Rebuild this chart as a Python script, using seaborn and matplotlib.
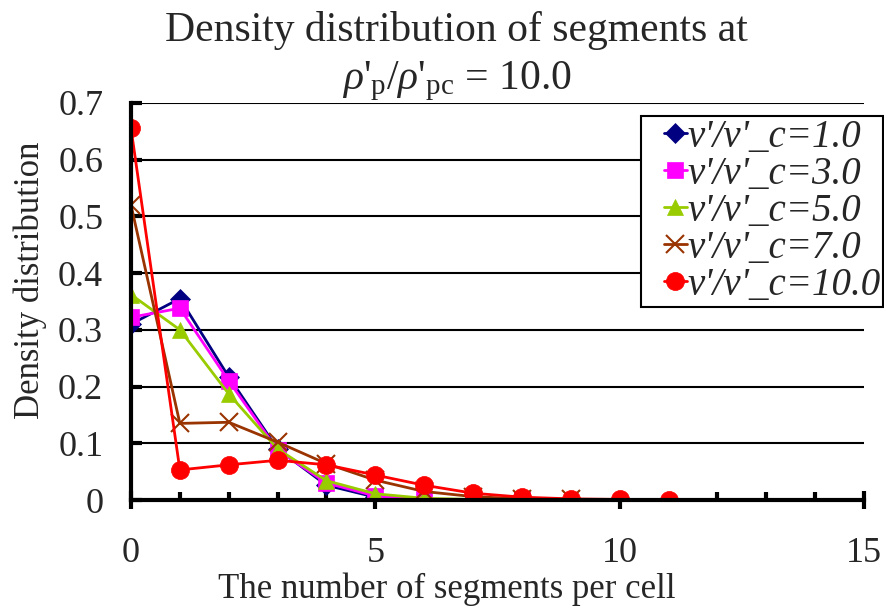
import numpy as np
import pandas as pd
import matplotlib
matplotlib.use("Agg")
import matplotlib.pyplot as plt
import seaborn as sns
from matplotlib.ticker import MultipleLocator
from matplotlib.legend_handler import HandlerLine2D

x_vals = [0, 1, 2, 3, 4, 5, 6, 7, 8, 9, 10, 11]
labels = ["v'/v'_c=1.0", "v'/v'_c=3.0", "v'/v'_c=5.0", "v'/v'_c=7.0", "v'/v'_c=10.0"]
s1 = [0.310, 0.355, 0.217, 0.090, 0.026, 0.005, 0.001, 0.0, 0.0]
s2 = [0.322, 0.338, 0.210, 0.088, 0.030, 0.007, 0.002, 0.0, 0.0]
s3 = [0.362, 0.300, 0.187, 0.090, 0.034, 0.011, 0.003, 0.001, 0.0]
s4 = [0.520, 0.135, 0.137, 0.102, 0.064, 0.035, 0.015, 0.006, 0.002, 0.001]
s5 = [0.655, 0.053, 0.062, 0.070, 0.062, 0.044, 0.026, 0.012, 0.005, 0.002, 0.001, 0.0]
series = [s1, s2, s3, s4, s5]
colors = ["#000080", "#FF00FF", "#99CC00", "#993300", "#FF0000"]
markers = ["D", "s", "^", "x", "o"]
msizes = [10, 12, 12, 13, 13]

sns.set_theme(style="white")
plt.rcParams['font.family'] = ['Liberation Serif', 'DejaVu Serif']
plt.rcParams['mathtext.fontset'] = 'custom'
plt.rcParams['mathtext.rm'] = 'Liberation Serif'
plt.rcParams['mathtext.it'] = 'Liberation Serif:italic'

fig = plt.figure(figsize=(8.84, 6.12), dpi=100)
ax = fig.add_axes([131 / 884, 0.183, (864 - 131) / 884, 0.649])

for ys, lab, c, m, ms in zip(series, labels, colors, markers, msizes):
    df = pd.DataFrame({"x": x_vals[:len(ys)], "y": ys})
    sns.lineplot(data=df, x="x", y="y", ax=ax, color=c, marker=m, markersize=ms,
                 markeredgecolor=c, markeredgewidth=1.5 if m == "x" else 0.5,
                 linewidth=2, label=lab)

ax.set_xlim(0, 15)
ax.set_ylim(0, 0.7)
ax.xaxis.set_major_locator(MultipleLocator(5))
ax.xaxis.set_minor_locator(MultipleLocator(1))
ax.set_yticks([0, 0.1, 0.2, 0.3, 0.4, 0.5, 0.6, 0.7])
ax.set_yticklabels(["0", "0.1", "0.2", "0.3", "0.4", "0.5", "0.6", "0.7"])
ax.grid(axis="y", color="black", linewidth=1.5)
ax.set_axisbelow(True)
for s in ["top", "right"]:
    ax.spines[s].set_visible(False)
for s in ["left", "bottom"]:
    ax.spines[s].set_color("black")
    ax.spines[s].set_linewidth(3)
ax.tick_params(axis="x", which="major", direction="inout", length=13, width=3,
               color="black", labelsize=26, pad=20, bottom=True)
ax.tick_params(axis="x", which="minor", direction="in", length=6, width=3,
               color="black", bottom=True)
ax.tick_params(axis="y", which="major", direction="in", length=8, width=3,
               color="black", labelsize=26, pad=20, left=True)
ax.set_xlabel("The number of segments per cell", fontsize=25, labelpad=2)
ax.xaxis.label.set_x(0.431)
ax.set_ylabel("Density distribution", fontsize=25, labelpad=8)
ax.yaxis.label.set_y(0.552)
ax.set_title("Density distribution of segments at\n"
             r"$\rho$'$_{\rm p}$/$\rho$'$_{\rm pc}$ = 10.0", fontsize=30, pad=10,
             linespacing=1.3, x=0.444)

handles, labs = ax.get_legend_handles_labels()
hmap = {h: HandlerLine2D(xpad=0.5) for h in handles}
leg = ax.legend(handles, labs, loc="upper left", bbox_to_anchor=(0.696, 0.968),
                frameon=True, fancybox=False, edgecolor="black", framealpha=1,
                prop={"family": "Liberation Serif", "style": "italic", "size": 28},
                handlelength=1.1, handletextpad=0.0, borderpad=0.08,
                labelspacing=0.0, borderaxespad=0, handler_map=hmap)
leg.get_frame().set_linewidth(1.5)

fig.savefig("out.png", dpi=100)
